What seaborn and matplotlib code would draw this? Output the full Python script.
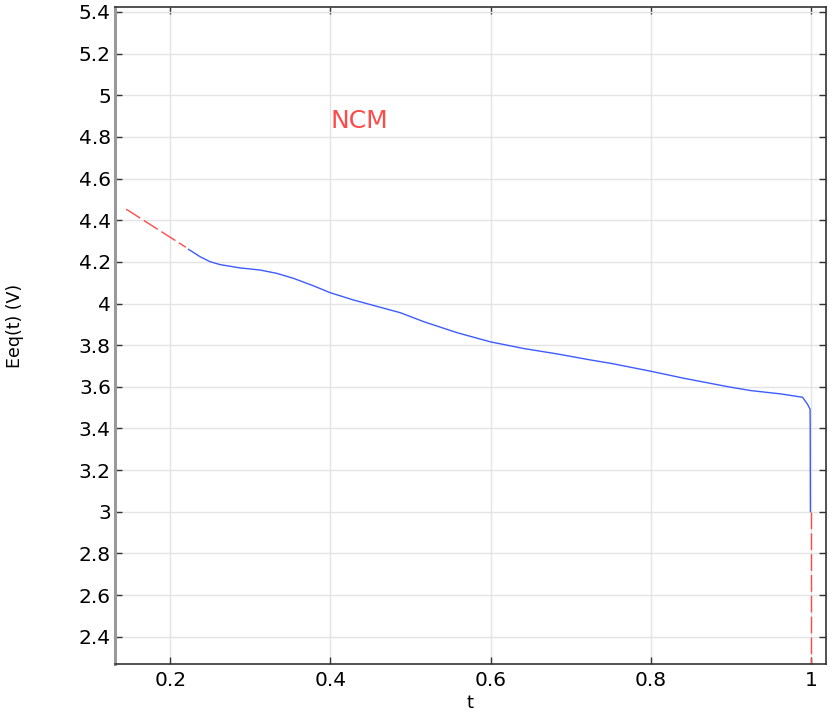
import matplotlib
matplotlib.use("Agg")
import matplotlib.pyplot as plt
import seaborn as sns
import pandas as pd

# ---- data ----
t_main = [0.2226, 0.2372, 0.2497, 0.2622, 0.2872, 0.3122, 0.333, 0.3539, 0.3789,
          0.3998, 0.4289, 0.4623, 0.4873, 0.5165, 0.5582, 0.5999, 0.6415, 0.6833,
          0.725, 0.750, 0.800, 0.8416, 0.896, 0.925, 0.9625, 0.9897, 0.9958,
          0.9991, 0.9993, 0.9995]
eeq_main = [4.261, 4.225, 4.201, 4.187, 4.171, 4.161, 4.145, 4.121, 4.085,
            4.052, 4.017, 3.982, 3.956, 3.913, 3.860, 3.816, 3.784, 3.758,
            3.729, 3.713, 3.675, 3.641, 3.601, 3.582, 3.566, 3.550, 3.517,
            3.493, 3.40, 3.00]

t_extrap_left = [0.145, 0.2196]
eeq_extrap_left = [4.453, 4.270]

t_extrap_right = [1.0008, 1.0008]
eeq_extrap_right = [3.00, 2.20]

xticks = [0.2, 0.4, 0.6, 0.8, 1.0]
xtick_labels = ["0.2", "0.4", "0.6", "0.8", "1"]
yticks = [2.4, 2.6, 2.8, 3.0, 3.2, 3.4, 3.6, 3.8, 4.0, 4.2, 4.4, 4.6, 4.8, 5.0, 5.2, 5.4]
ytick_labels = ["2.4", "2.6", "2.8", "3", "3.2", "3.4", "3.6", "3.8", "4", "4.2",
                "4.4", "4.6", "4.8", "5", "5.2", "5.4"]
annotation = "NCM"
xlabel = "t"
ylabel = "Eeq(t) (V)"

df_main = pd.DataFrame({"t": t_main, "Eeq": eeq_main})
df_left = pd.DataFrame({"t": t_extrap_left, "Eeq": eeq_extrap_left})
df_right = pd.DataFrame({"t": t_extrap_right, "Eeq": eeq_extrap_right})

sns.set_theme(style="whitegrid")
plt.rcParams["font.family"] = ["DejaVu Sans"]

fig = plt.figure(figsize=(8.3, 7.12), dpi=100)
ax = fig.add_axes([115 / 830, 48 / 712, 711 / 830, 657 / 712])
ax.set_facecolor("white")

blue = "#3d5cff"
red = "#ff4a4a"

sns.lineplot(data=df_main, x="t", y="Eeq", ax=ax, color=blue, linewidth=1.0,
             sort=False, estimator=None)
sns.lineplot(data=df_left, x="t", y="Eeq", ax=ax, color=red, linewidth=1.0,
             sort=False, estimator=None)
ax.lines[-1].set_dashes((12, 3))
sns.lineplot(data=df_right, x="t", y="Eeq", ax=ax, color=red, linewidth=1.0,
             sort=False, estimator=None)
ax.lines[-1].set_dashes((12, 3))

ax.set_xlim(0.131, 1.019)
ax.set_ylim(2.269, 5.424)
ax.set_xticks(xticks)
ax.set_xticklabels(xtick_labels)
ax.set_yticks(yticks)
ax.set_yticklabels(ytick_labels)

ax.grid(True, color="#e4e4e4", linewidth=1.0)
ax.tick_params(axis="both", which="both", direction="in", length=5, width=1,
               color="#333333", labelsize=14.5, labelcolor="black",
               top=True, right=True, bottom=True, left=True)
ax.tick_params(axis="x", pad=5)
ax.tick_params(axis="y", pad=3)

for side in ["top", "right", "bottom"]:
    ax.spines[side].set_color("#333333")
    ax.spines[side].set_linewidth(1.2)
    ax.spines[side].set_visible(True)
ax.spines["left"].set_color("#999999")
ax.spines["left"].set_linewidth(2.2)
ax.spines["left"].set_visible(True)

ax.set_xlabel(xlabel, fontsize=13, color="black")
ax.set_ylabel(ylabel, fontsize=12.5, color="black")
ax.xaxis.set_label_coords(0.499, -0.059)
ax.yaxis.set_label_coords(-0.1406, 0.515)
ax.xaxis.label.set_va("center")
ax.yaxis.label.set_va("center")

ax.text(0.4364, 4.875, annotation, color=red, fontsize=18, ha="center", va="center")

fig.savefig("out.png", dpi=100)
